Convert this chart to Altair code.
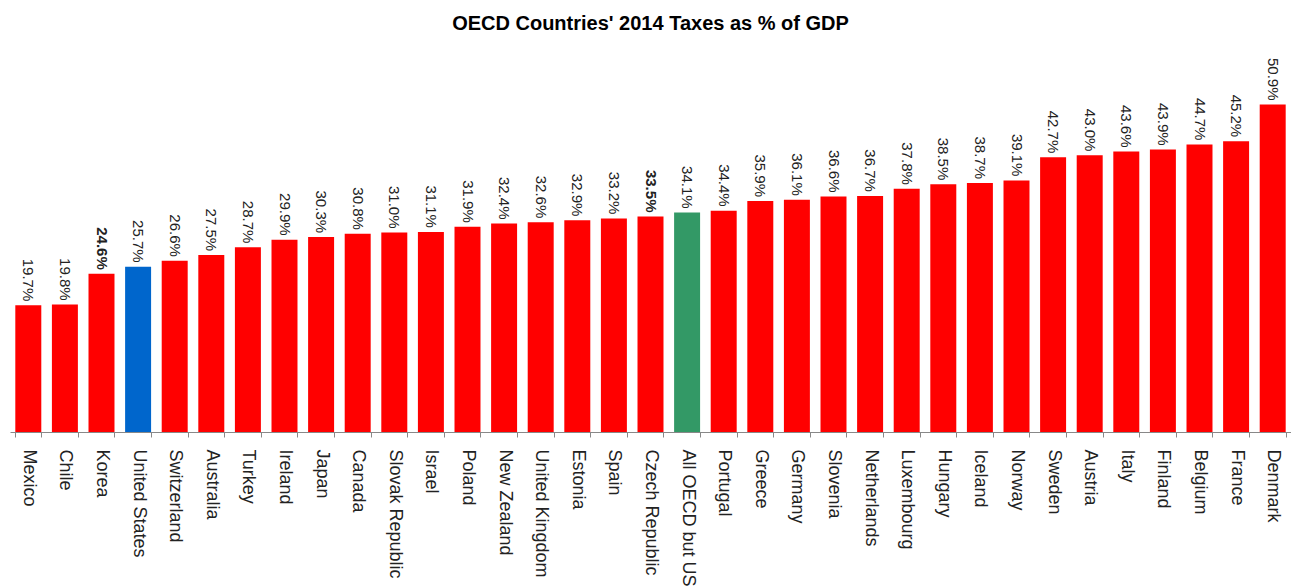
import altair as alt
import pandas as pd

countries = ["Mexico", "Chile", "Korea", "United States", "Switzerland", "Australia", "Turkey",
             "Ireland", "Japan", "Canada", "Slovak Republic", "Israel", "Poland", "New Zealand",
             "United Kingdom", "Estonia", "Spain", "Czech Republic", "All OECD but US", "Portugal",
             "Greece", "Germany", "Slovenia", "Netherlands", "Luxembourg", "Hungary", "Iceland",
             "Norway", "Sweden", "Austria", "Italy", "Finland", "Belgium", "France", "Denmark"]
values = [19.7, 19.8, 24.6, 25.7, 26.6, 27.5, 28.7, 29.9, 30.3, 30.8, 31.0, 31.1, 31.9, 32.4,
          32.6, 32.9, 33.2, 33.5, 34.1, 34.4, 35.9, 36.1, 36.6, 36.7, 37.8, 38.5, 38.7, 39.1,
          42.7, 43.0, 43.6, 43.9, 44.7, 45.2, 50.9]
highlight_blue = ["United States"]
highlight_green = ["All OECD but US"]
bold_labels = ["Korea", "Czech Republic"]

colors = ["#0066CC" if c in highlight_blue else "#339966" if c in highlight_green else "#FF0000"
          for c in countries]
df = pd.DataFrame({"country": countries, "value": values, "color": colors,
                   "bold": [c in bold_labels for c in countries]})

FONT = "Liberation Sans"

x = alt.X("country:N", sort=countries, title=None,
          scale=alt.Scale(paddingInner=0.29, paddingOuter=0.145),
          axis=alt.Axis(labelAngle=90, labelAlign="left", labelBaseline="middle",
                        labelFontSize=18, labelFont=FONT, labelColor="#222222",
                        labelPadding=12, labelLimit=300, tickBand="extent",
                        tickColor="#888888", domainColor="#888888", tickSize=5))
y = alt.Y("value:Q", scale=alt.Scale(domain=[0, 60]), axis=None)

base = alt.Chart(df).encode(x=x, y=y)
bars = base.mark_bar().encode(color=alt.Color("color:N", scale=None))

label_common = dict(angle=90, align="right", baseline="middle", yOffset=-4,
                    fontSize=15, font=FONT, color="#222222")
txt = base.transform_calculate(lbl="format(datum.value, '.1f') + '%'")
labels_normal = txt.transform_filter("!datum.bold").mark_text(**label_common).encode(text="lbl:N")
labels_bold = txt.transform_filter("datum.bold").mark_text(fontWeight="bold", **label_common).encode(text="lbl:N")

chart = alt.layer(bars, labels_normal, labels_bold).properties(
    width=1283, height=386,
    autosize=alt.AutoSizeParams(type="fit-x", contains="padding"),
    title=alt.TitleParams("OECD Countries' 2014 Taxes as % of GDP", font=FONT, fontSize=20,
                          fontWeight="bold", color="#000000", offset=12),
    padding={"left": -7, "top": 6, "right": 0, "bottom": 0},
).configure_view(stroke=None)

chart.save("out.html", embed_options={"renderer": "svg", "actions": False})
